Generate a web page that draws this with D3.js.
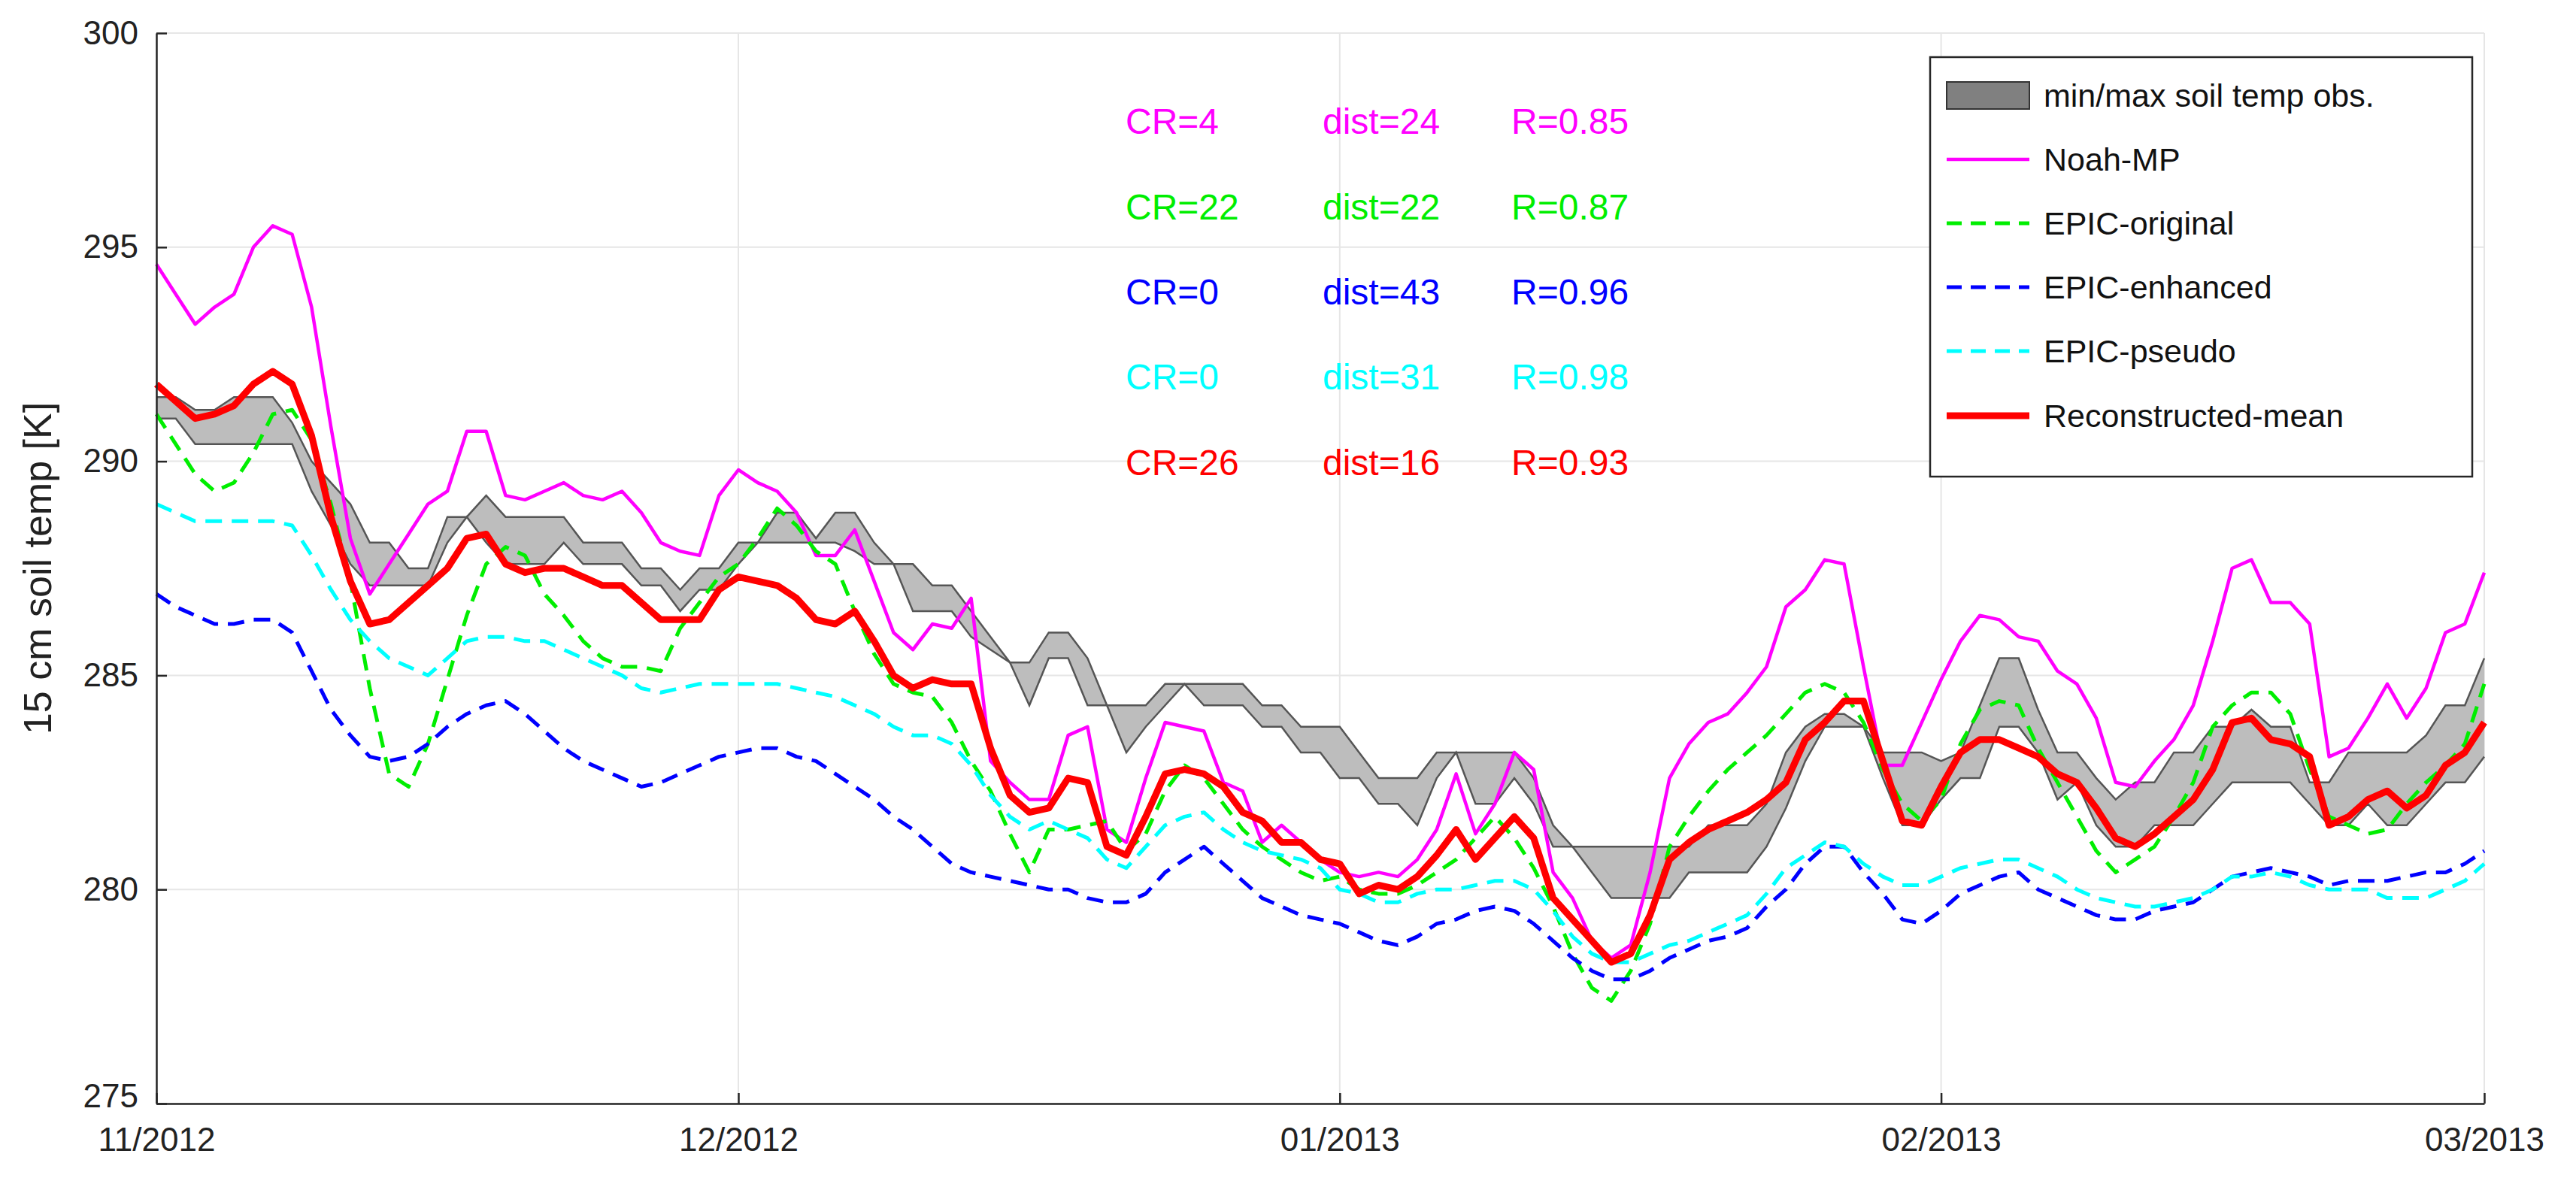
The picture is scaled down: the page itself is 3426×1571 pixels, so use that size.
<!DOCTYPE html>
<html><head><meta charset="utf-8">
<script src="https://cdn.jsdelivr.net/npm/d3@7"></script>
<style>body{margin:0;background:#fff}svg{display:block}</style>
</head><body>
<script>
const startDate = "2012-11-01";
const tickDates = ["2012-11-01","2012-12-01","2013-01-01","2013-02-01","2013-03-01"];
const tickLabels = ["11/2012","12/2012","01/2013","02/2013","03/2013"];
const yTicks = [275,280,285,290,295,300];
const seriesNames = ["Noah-MP","EPIC-original","EPIC-enhanced","EPIC-pseudo","Reconstructed-mean"];
const bandLabel = "min/max soil temp obs.";

const obsMax = [291.5,291.5,291.2,291.2,291.5,291.5,291.5,290.9,290.0,289.5,289.0,288.1,288.1,287.5,287.5,288.7,288.7,289.2,288.7,288.7,288.7,288.7,288.1,288.1,288.1,287.5,287.5,287.0,287.5,287.5,288.1,
288.1,288.8,288.8,288.2,288.8,288.8,288.1,287.6,287.6,287.1,287.1,286.5,285.9,285.3,285.3,286.0,286.0,285.4,284.3,284.3,284.3,284.8,284.8,284.8,284.8,284.8,284.3,284.3,283.8,283.8,
283.8,283.2,282.6,282.6,282.6,283.2,283.2,283.2,283.2,283.2,282.6,281.5,281.0,281.0,281.0,281.0,281.0,281.0,281.0,281.5,281.5,281.5,282.0,283.2,283.8,284.1,284.1,283.8,283.2,283.2,283.2,
283.0,283.2,284.3,285.4,285.4,284.2,283.2,283.2,282.6,282.1,282.5,282.5,283.2,283.2,283.8,283.8,284.2,283.8,283.8,282.5,282.5,283.2,283.2,283.2,283.2,283.6,284.3,284.3,285.4];
const obsMin = [291.0,291.0,290.4,290.4,290.4,290.4,290.4,290.4,289.3,288.5,287.6,287.1,287.1,287.1,287.1,288.1,288.7,288.1,287.6,287.6,287.6,288.1,287.6,287.6,287.6,287.1,287.1,286.5,287.0,287.0,287.6,
288.1,288.1,288.1,288.1,288.1,287.9,287.6,287.6,286.5,286.5,286.5,285.9,285.6,285.3,284.3,285.4,285.4,284.3,284.3,283.2,283.8,284.3,284.8,284.3,284.3,284.3,283.8,283.8,283.2,283.2,
282.6,282.6,282.0,282.0,281.5,282.6,283.2,282.0,282.0,282.6,282.0,281.0,281.0,280.4,279.8,279.8,279.8,279.8,280.4,280.4,280.4,280.4,281.0,281.9,283.0,283.8,283.8,283.8,282.6,281.5,281.5,
282.1,282.6,282.6,283.8,283.8,283.2,282.1,282.5,281.5,281.0,281.0,281.5,281.5,281.5,282.0,282.5,282.5,282.5,282.5,282.0,281.5,281.5,282.0,281.5,281.5,282.0,282.5,282.5,283.1];
const noahMP = [294.6,293.9,293.2,293.6,293.9,295.0,295.5,295.3,293.6,290.8,288.2,286.9,287.6,288.3,289.0,289.3,290.7,290.7,289.2,289.1,289.3,289.5,289.2,289.1,289.3,288.8,288.1,287.9,287.8,289.2,289.8,
289.5,289.3,288.8,287.8,287.8,288.4,287.2,286.0,285.6,286.2,286.1,286.8,283.0,282.5,282.1,282.1,283.6,283.8,281.4,281.1,282.6,283.9,283.8,283.7,282.5,282.3,281.1,281.5,281.1,280.7,
280.4,280.3,280.4,280.3,280.7,281.4,282.7,281.3,282.0,283.2,282.8,280.4,279.8,278.8,278.4,278.7,280.4,282.6,283.4,283.9,284.1,284.6,285.2,286.6,287.0,287.7,287.6,285.2,282.9,282.9,283.9,
284.9,285.8,286.4,286.3,285.9,285.8,285.1,284.8,284.0,282.5,282.4,283.0,283.5,284.3,285.8,287.5,287.7,286.7,286.7,286.2,283.1,283.3,284.0,284.8,284.0,284.7,286.0,286.2,287.4];
const epicOriginal = [291.1,290.4,289.7,289.3,289.5,290.2,291.1,291.2,290.5,289.0,287.2,284.7,282.7,282.4,283.4,284.9,286.4,287.6,288.0,287.8,286.9,286.4,285.8,285.4,285.2,285.2,285.1,286.1,286.7,287.3,287.6,
288.2,288.9,288.5,287.9,287.6,286.5,285.5,284.8,284.6,284.5,283.9,283.0,282.3,281.3,280.4,281.4,281.4,281.5,281.6,280.9,281.3,282.3,282.9,282.6,282.0,281.4,281.0,280.7,280.4,280.2,
280.3,280.0,279.9,279.9,280.1,280.4,280.7,281.2,281.7,281.2,280.5,279.6,278.5,277.7,277.4,278.1,279.2,281.0,281.7,282.3,282.8,283.2,283.6,284.1,284.6,284.8,284.6,283.9,282.8,282.0,281.6,
282.1,283.4,284.2,284.4,284.3,283.3,282.5,281.7,280.9,280.4,280.7,281.0,281.7,282.5,283.8,284.3,284.6,284.6,284.1,282.8,281.7,281.5,281.3,281.4,282.0,282.5,282.9,283.4,284.8];
const epicEnhanced = [286.9,286.6,286.4,286.2,286.2,286.3,286.3,286.0,285.1,284.2,283.6,283.1,283.0,283.1,283.4,283.8,284.1,284.3,284.4,284.1,283.7,283.3,283.0,282.8,282.6,282.4,282.5,282.7,282.9,283.1,283.2,
283.3,283.3,283.1,283.0,282.7,282.4,282.1,281.7,281.4,281.0,280.6,280.4,280.3,280.2,280.1,280.0,280.0,279.8,279.7,279.7,279.9,280.4,280.7,281.0,280.6,280.2,279.8,279.6,279.4,279.3,
279.2,279.0,278.8,278.7,278.9,279.2,279.3,279.5,279.6,279.5,279.2,278.8,278.4,278.1,277.9,277.9,278.1,278.4,278.6,278.8,278.9,279.1,279.6,280.0,280.6,281.0,281.0,280.4,279.9,279.3,279.2,
279.5,279.9,280.1,280.3,280.4,280.0,279.8,279.6,279.4,279.3,279.3,279.5,279.6,279.7,280.0,280.3,280.4,280.5,280.4,280.3,280.1,280.2,280.2,280.2,280.3,280.4,280.4,280.6,280.9];
const epicPseudo = [289.0,288.8,288.6,288.6,288.6,288.6,288.6,288.5,287.8,287.0,286.3,285.8,285.4,285.2,285.0,285.4,285.8,285.9,285.9,285.8,285.8,285.6,285.4,285.2,285.0,284.7,284.6,284.7,284.8,284.8,284.8,
284.8,284.8,284.7,284.6,284.5,284.3,284.1,283.8,283.6,283.6,283.4,282.9,282.2,281.7,281.4,281.6,281.4,281.2,280.7,280.5,281.0,281.5,281.7,281.8,281.4,281.1,280.9,280.8,280.7,280.5,
280.0,279.9,279.7,279.7,279.9,280.0,280.0,280.1,280.2,280.2,280.0,279.5,278.9,278.5,278.3,278.3,278.5,278.7,278.8,279.0,279.2,279.4,279.9,280.5,280.8,281.1,281.0,280.6,280.3,280.1,280.1,
280.3,280.5,280.6,280.7,280.7,280.5,280.3,280.0,279.8,279.7,279.6,279.6,279.7,279.8,280.0,280.3,280.3,280.4,280.3,280.1,280.0,280.0,280.0,279.8,279.8,279.8,280.0,280.2,280.6];
const reconMean = [291.8,291.4,291.0,291.1,291.3,291.8,292.1,291.8,290.6,288.7,287.2,286.2,286.3,286.7,287.1,287.5,288.2,288.3,287.6,287.4,287.5,287.5,287.3,287.1,287.1,286.7,286.3,286.3,286.3,287.0,287.3,
287.2,287.1,286.8,286.3,286.2,286.5,285.8,285.0,284.7,284.9,284.8,284.8,283.3,282.2,281.8,281.9,282.6,282.5,281.0,280.8,281.7,282.7,282.8,282.7,282.4,281.8,281.6,281.1,281.1,280.7,
280.6,279.9,280.1,280.0,280.3,280.8,281.4,280.7,281.2,281.7,281.2,279.8,279.3,278.8,278.3,278.5,279.4,280.7,281.1,281.4,281.6,281.8,282.1,282.5,283.5,283.9,284.4,284.4,283.0,281.6,281.5,
282.4,283.2,283.5,283.5,283.3,283.1,282.7,282.5,281.9,281.2,281.0,281.3,281.7,282.1,282.8,283.9,284.0,283.5,283.4,283.1,281.5,281.7,282.1,282.3,281.9,282.2,282.9,283.2,283.9];

const statCR = ["CR=4","CR=22","CR=0","CR=0","CR=26"];
const statDist = ["dist=24","dist=22","dist=43","dist=31","dist=16"];
const statR = ["R=0.85","R=0.87","R=0.96","R=0.98","R=0.93"];

const colors = ["#ff00ff","#00ee00","#0000ff","#00ffff","#ff0000"];
const widths = [4.5,5,5,5,9];
const dashes = [null,"22,13","22,13","22,13",null];
const seriesData = [noahMP, epicOriginal, epicEnhanced, epicPseudo, reconMean];

const W=3426,H=1571, L=208,R=3304,T=44,B=1468;
const svg=d3.select("body").append("svg").attr("width",W).attr("height",H).style("font-family","Liberation Sans, Arial, sans-serif");
const t0=new Date(startDate+"T00:00:00Z");
const dayDate=i=>new Date(t0.getTime()+i*86400000);
const x=d3.scaleUtc().domain([t0,new Date("2013-03-01T00:00:00Z")]).range([L,R]);
const y=d3.scaleLinear().domain([275,300]).range([B,T]);
const tds=tickDates.map(s=>new Date(s+"T00:00:00Z"));

svg.append("g").selectAll("line").data(yTicks).join("line").attr("x1",L).attr("x2",R).attr("y1",d=>y(d)).attr("y2",d=>y(d)).attr("stroke","#e6e6e6").attr("stroke-width",2);
svg.append("g").selectAll("line").data(tds).join("line").attr("y1",T).attr("y2",B).attr("x1",d=>x(d)).attr("x2",d=>x(d)).attr("stroke","#e6e6e6").attr("stroke-width",2);

const idx=d3.range(obsMax.length);
svg.append("path").datum(idx).attr("d",d3.area().x(i=>x(dayDate(i))).y0(i=>y(obsMin[i])).y1(i=>y(obsMax[i])))
 .attr("fill","#bdbdbd").attr("stroke","none");
[obsMax,obsMin].forEach(arr=>svg.append("path").datum(idx).attr("d",d3.line().x(i=>x(dayDate(i))).y(i=>y(arr[i]))).attr("fill","none").attr("stroke","#555").attr("stroke-width",2.5));

seriesData.forEach((arr,k)=>{
  const p=svg.append("path").datum(arr).attr("d",d3.line().x((d,i)=>x(dayDate(i))).y(d=>y(d)))
   .attr("fill","none").attr("stroke",colors[k]).attr("stroke-width",widths[k]).attr("stroke-linejoin","round");
  if(dashes[k]) p.attr("stroke-dasharray",dashes[k]);
});

const ax=svg.append("g").attr("transform",`translate(0,${B})`).call(d3.axisBottom(x).tickValues(tds).tickFormat((d,i)=>tickLabels[i]).tickSizeInner(-14).tickSizeOuter(0).tickPadding(32));
ax.selectAll("text").attr("font-size",44).attr("fill","#222");
ax.selectAll("line").attr("stroke","#262626").attr("stroke-width",2.5);
ax.select(".domain").attr("stroke","#262626").attr("stroke-width",2.5);
const ay=svg.append("g").attr("transform",`translate(${L},0)`).call(d3.axisLeft(y).tickValues(yTicks).tickSizeInner(-14).tickSizeOuter(0).tickPadding(24));
ay.selectAll("text").attr("font-size",44).attr("fill","#222");
ay.selectAll("text").filter(d=>d===275).attr("dy","0.1em");
ay.selectAll("line").attr("stroke","#262626").attr("stroke-width",2.5);
ay.select(".domain").attr("stroke","#262626").attr("stroke-width",2.5);
svg.append("text").attr("transform",`translate(68,${(T+B)/2}) rotate(-90)`).attr("text-anchor","middle").attr("font-size",52).attr("fill","#222").text("15 cm soil temp [K]");

const rowY=[178,292,405,518,632], colX=[1497,1759,2010];
[statCR,statDist,statR].forEach((col,c)=>col.forEach((s,r)=>svg.append("text").attr("x",colX[c]).attr("y",rowY[r]).attr("font-size",48).attr("fill",colors[r]).text(s)));

const lg=svg.append("g");
lg.append("rect").attr("x",2567).attr("y",76).attr("width",721).attr("height",558).attr("fill","#fff").attr("stroke","#262626").attr("stroke-width",2.5);
const ly=[127,212,297,382,467,553];
lg.append("rect").attr("x",2589).attr("y",ly[0]-18).attr("width",110).attr("height",36).attr("fill","#808080").attr("stroke","#333").attr("stroke-width",2);
lg.append("text").attr("x",2718).attr("y",ly[0]+15).attr("font-size",43).attr("fill","#111").text(bandLabel);
seriesNames.forEach((n,k)=>{
  const l=lg.append("line").attr("x1",2589).attr("x2",2699).attr("y1",ly[k+1]).attr("y2",ly[k+1]).attr("stroke",colors[k]).attr("stroke-width",widths[k]);
  if(dashes[k]) l.attr("stroke-dasharray","20,12");
  lg.append("text").attr("x",2718).attr("y",ly[k+1]+15).attr("font-size",43).attr("fill","#111").text(n);
});
</script>
</body></html>
